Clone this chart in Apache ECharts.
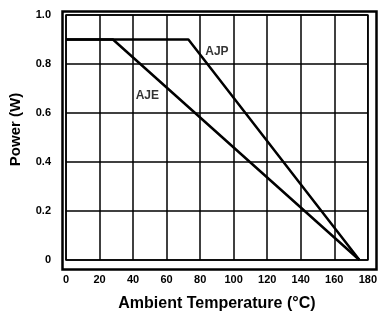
<!DOCTYPE html>
<html>
<head>
<meta charset="utf-8">
<script src="https://cdn.jsdelivr.net/npm/echarts@6/dist/echarts.min.js"></script>
<style>
  html, body { margin: 0; padding: 0; background: #fff; }
  #chart { width: 380px; height: 317px; }
</style>
</head>
<body>
<div id="chart"></div>
<script>
// derating curves
const ajpTemp = [0, 73, 175]
const ajpPower = [0.9, 0.9, 0]
const ajeTemp = [0, 28, 175]
const ajePower = [0.9, 0.9, 0]

// curve captions
const captionNames = ['AJP', 'AJE']
const captionTemp = [90, 48.5]
const captionPower = [0.85, 0.67]

const xTicks = [0, 20, 40, 60, 80, 100, 120, 140, 160, 180]
const yTicks = [0, 0.2, 0.4, 0.6, 0.8, 1.0]

const font = 'Liberation Sans, Arial, sans-serif'

const toPairs = (xs, ys) => xs.map((x, i) => [x, ys[i]])

const chart = echarts.init(document.getElementById('chart'))

const gridLeft = 66, gridRight = 7, gridTop = 15, gridBottom = 51

chart.setOption({
    animation: false,
    grid: {
        left: gridLeft,
        right: gridRight,
        top: gridTop,
        bottom: gridBottom,
        show: true,
        borderColor: '#000',
        borderWidth: 1.5
    },
    graphic: [
        {
            type: 'rect',
            shape: {
                x: gridLeft - 3.5,
                y: gridTop - 3.5,
                width: 380 - gridLeft - gridRight + 7,
                height: 317 - gridTop - gridBottom + 7
            },
            style: { fill: 'none', stroke: '#000', lineWidth: 2.5 },
            silent: true
        }
    ],
    xAxis: {
        type: 'value',
        min: xTicks[0],
        max: xTicks[xTicks.length - 1],
        interval: 20,
        name: 'Ambient Temperature (°C)',
        nameLocation: 'middle',
        nameGap: 36,
        nameTextStyle: { color: '#000', fontFamily: font, fontSize: 16, fontWeight: 'bold' },
        axisLine: { show: false },
        axisTick: { show: false },
        axisLabel: { color: '#000', fontFamily: font, fontSize: 11, fontWeight: 'bold', margin: 14 },
        splitLine: { show: true, lineStyle: { color: '#000', width: 1.5 } }
    },
    yAxis: {
        type: 'value',
        min: yTicks[0],
        max: yTicks[yTicks.length - 1],
        interval: 0.2,
        name: 'Power (W)',
        nameLocation: 'middle',
        nameGap: 43,
        nameTextStyle: { color: '#000', fontFamily: font, fontSize: 15, fontWeight: 'bold', padding: [0, 0, 0, 16] },
        axisLine: { show: false },
        axisTick: { show: false },
        axisLabel: {
            color: '#000',
            fontFamily: font,
            fontSize: 11,
            fontWeight: 'bold',
            margin: 15,
            formatter: v => (v === 0 ? '0' : v.toFixed(1))
        },
        splitLine: { show: true, lineStyle: { color: '#000', width: 1.5 } }
    },
    series: [
        {
            name: 'AJP',
            type: 'line',
            data: toPairs(ajpTemp, ajpPower),
            symbol: 'none',
            lineStyle: { color: '#000', width: 2.5 }
        },
        {
            name: 'AJE',
            type: 'line',
            data: toPairs(ajeTemp, ajePower),
            symbol: 'none',
            lineStyle: { color: '#000', width: 2.5 }
        },
        {
            type: 'scatter',
            symbolSize: 0,
            data: captionNames.map((n, i) => ({ name: n, value: [captionTemp[i], captionPower[i]] })),
            label: {
                show: true,
                position: 'inside',
                formatter: p => p.name,
                color: '#000',
                fontFamily: font,
                fontSize: 12,
                fontWeight: 'bold'
            }
        }
    ]
})
</script>
</body>
</html>
